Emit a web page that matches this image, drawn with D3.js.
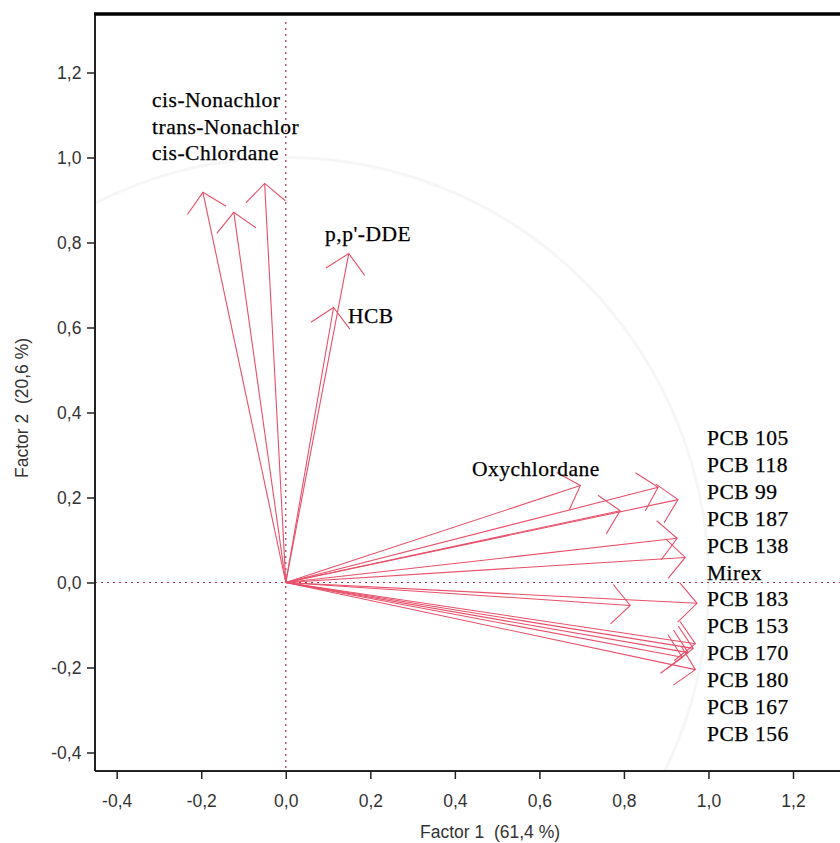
<!DOCTYPE html>
<html><head><meta charset="utf-8">
<script src="https://cdn.jsdelivr.net/npm/d3@7"></script>
<style>body{margin:0;background:#fff}svg{display:block}text.t{white-space:pre}</style>
</head><body><div id="c"></div>
<script>
// Loadings (Factor 1, Factor 2)
const upperF1 = [-0.196, -0.123, -0.050, 0.149, 0.113];
const upperF2 = [0.918, 0.871, 0.939, 0.774, 0.647];
const rightF1 = [0.697, 0.881, 0.928, 0.791, 0.926, 0.945, 0.815, 0.973, 0.969, 0.964, 0.952, 0.938, 0.969];
const rightF2 = [0.228, 0.224, 0.195, 0.169, 0.104, 0.059, -0.054, -0.049, -0.144, -0.155, -0.165, -0.176, -0.205];
const chlordaneLabels = ["cis-Nonachlor", "trans-Nonachlor", "cis-Chlordane"];
const pcbLabels = ["PCB 105","PCB 118","PCB 99","PCB 187","PCB 138","Mirex","PCB 183","PCB 153","PCB 170","PCB 180","PCB 167","PCB 156"];
const xTicks = [-0.4,-0.2,0,0.2,0.4,0.6,0.8,1.0,1.2];
const yTicks = [-0.4,-0.2,0,0.2,0.4,0.6,0.8,1.0,1.2];

const W = 840, H = 843;
const svg = d3.select("#c").append("svg").attr("width", W).attr("height", H);
const x = d3.scaleLinear().domain([-0.4, 1.2]).range([116.7, 793]);
const y = d3.scaleLinear().domain([-0.4, 1.2]).range([752.5, 72.5]);
const L = 95, T = 14, B = 771, R = 840;
const fmt = d => d3.format(".1f")(d).replace(".", ",").replace("−","-");
const sans = "Liberation Sans, Arial, sans-serif";

// faint unit circle
svg.append("defs").append("clipPath").attr("id","cp").append("rect")
  .attr("x",L).attr("y",T).attr("width",R-L).attr("height",B-T);
svg.append("ellipse").attr("clip-path","url(#cp)")
  .attr("cx",x(0)).attr("cy",y(0)).attr("rx",x(1)-x(0)).attr("ry",y(0)-y(1))
  .attr("fill","none").attr("stroke","#f6f6f6").attr("stroke-width",3);

// dotted reference lines
const dotCol = "#b0304a";
svg.append("line").attr("x1",L).attr("x2",R).attr("y1",y(0)).attr("y2",y(0))
  .attr("stroke",dotCol).attr("stroke-width",1.2).attr("stroke-dasharray","2,4");
svg.append("line").attr("x1",x(0)).attr("x2",x(0)).attr("y1",T+8).attr("y2",B)
  .attr("stroke",dotCol).attr("stroke-width",1.2).attr("stroke-dasharray","2,4");

// axes
const xAxis = d3.axisBottom(x).tickValues(xTicks).tickFormat(fmt).tickSize(8).tickSizeOuter(0);
const gx = svg.append("g").attr("transform",`translate(0,${B})`).call(xAxis);
gx.select(".domain").attr("d",`M${L},0H${R}`).attr("stroke","#222").attr("stroke-width",2);
const yAxis = d3.axisLeft(y).tickValues(yTicks).tickFormat(fmt).tickSize(8).tickSizeOuter(0);
const gy = svg.append("g").attr("transform",`translate(${L},0)`).call(yAxis);
gy.select(".domain").attr("d",`M0,${T}V${B}`).attr("stroke","#222").attr("stroke-width",2);
svg.selectAll(".tick line").attr("stroke","#222").attr("stroke-width",1.5);
svg.selectAll(".tick text").attr("font-family",sans)
  .attr("font-size",17.5).attr("fill","#333");
gx.selectAll(".tick text").attr("dy","1.45em");
gy.selectAll(".tick text").attr("dx","-0.15em");
svg.append("line").attr("x1",L-1).attr("x2",R).attr("y1",T).attr("y2",T)
  .attr("stroke","#000").attr("stroke-width",3.5);

// axis titles
svg.append("text").attr("class","t").attr("x",490).attr("y",838).attr("text-anchor","middle")
  .attr("font-family",sans).attr("font-size",17.5).attr("fill","#333")
  .text("Factor 1  (61,4 %)");
svg.append("text").attr("class","t").attr("transform","translate(28,408) rotate(-90)").attr("text-anchor","middle")
  .attr("font-family",sans).attr("font-size",17.5).attr("fill","#333")
  .text("Factor 2  (20,6 %)");

// arrows
const arrCol = "#e8506a";
const pts = upperF1.map((v,i)=>[v,upperF2[i]]).concat(rightF1.map((v,i)=>[v,rightF2[i]]));
const headLen = 27, headAng = 47*Math.PI/180;
const g = svg.append("g").attr("fill","none").attr("stroke",arrCol).attr("stroke-width",1.1);
pts.forEach(([a,b])=>{
  const x0 = x(0), y0 = y(0), x1 = x(a), y1 = y(b);
  const ang = Math.atan2(y0-y1, x0-x1);
  g.append("line").attr("x1",x0).attr("y1",y0).attr("x2",x1).attr("y2",y1);
  const p1 = [x1+headLen*Math.cos(ang+headAng), y1+headLen*Math.sin(ang+headAng)];
  const p2 = [x1+headLen*Math.cos(ang-headAng), y1+headLen*Math.sin(ang-headAng)];
  g.append("path").attr("d",`M${p1[0]},${p1[1]}L${x1},${y1}L${p2[0]},${p2[1]}`);
});

// labels
const lf = "Liberation Serif, Times New Roman, serif";
const lab = svg.append("g").attr("font-family",lf).attr("font-size",21.5).attr("fill","#000")
  .attr("stroke","#000").attr("stroke-width",0.25).attr("letter-spacing","0.5px");
chlordaneLabels.forEach((t,i)=>lab.append("text").attr("x",152).attr("y",107+i*26.5).text(t));
lab.append("text").attr("x",325).attr("y",241).text("p,p'-DDE");
lab.append("text").attr("x",348).attr("y",323).text("HCB");
lab.append("text").attr("x",472).attr("y",476).text("Oxychlordane");
pcbLabels.forEach((t,i)=>lab.append("text").attr("x",707).attr("y",445+i*26.9).text(t));
</script></body></html>
